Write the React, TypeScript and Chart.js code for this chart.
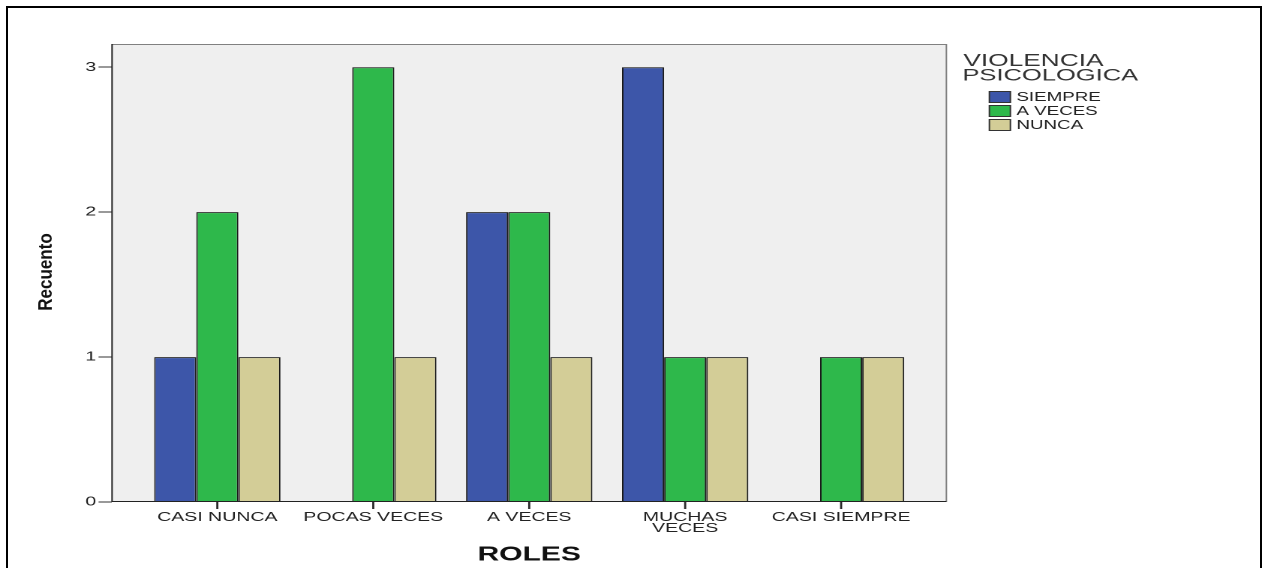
import React, { useEffect, useRef } from "react";
import { Chart, registerables } from "chart.js";

Chart.register(...registerables);

// ---- data ----
const categories = ["CASI NUNCA", "POCAS VECES", "A VECES", "MUCHAS VECES", "CASI SIEMPRE"];
const tickLabels: (string | string[])[] = ["CASI NUNCA", "POCAS VECES", "A VECES", ["MUCHAS", "VECES"], "CASI SIEMPRE"];
const seriesNames = ["SIEMPRE", "A VECES", "NUNCA"];
const siempre: (number | null)[] = [1, null, 2, 3, null];
const aVeces: (number | null)[] = [2, 3, 2, 1, 1];
const nunca: (number | null)[] = [1, 1, 1, 1, 1];
const yTicks = [0, 1, 2, 3];
const legendTitle = ["VIOLENCIA", "PSICOLOGICA"];
const xTitle = "ROLES";
const yTitle = "Recuento";

// ---- layout (the reference is stretched horizontally) ----
const S = 1.5;
const W = 1268;
const H = 568;
const IW = Math.round(W / S);
const px = (x: number) => x / S;
const FONT = "'Liberation Sans', Arial, sans-serif";
const colors = ["#3d56a9", "#2eb84b", "#d3cd97"];

const chartPlugin = {
  id: "spssDecor",
  beforeDraw(chart: any) {
    const { ctx, chartArea: a } = chart;
    ctx.save();
    ctx.fillStyle = "#efefef";
    ctx.fillRect(a.left, a.top, a.right - a.left, a.bottom - a.top);
    ctx.restore();
  },
  afterDraw(chart: any) {
    const { ctx, chartArea: a } = chart;
    // plot frame
    ctx.save();
    ctx.lineWidth = 1;
    ctx.strokeStyle = "#808080";
    ctx.beginPath();
    ctx.moveTo(a.left, a.top + 0.5);
    ctx.lineTo(a.right, a.top + 0.5);
    ctx.lineTo(a.right, a.bottom);
    ctx.stroke();
    ctx.strokeStyle = "#222";
    ctx.beginPath();
    ctx.moveTo(a.left, a.top);
    ctx.lineTo(a.left, a.bottom - 0.5);
    ctx.lineTo(a.right, a.bottom - 0.5);
    ctx.stroke();
    // x category tick marks
    const xs = chart.scales.x;
    ctx.fillStyle = "#2a2a2a";
    for (let i = 0; i < categories.length; i++) {
      const x = xs.getPixelForValue(i);
      ctx.fillRect(x - 0.7, a.bottom, 1.4, 7);
    }
    ctx.restore();

    // y axis title, drawn with only a slight horizontal stretch
    ctx.save();
    ctx.translate(px(46), 272);
    ctx.scale(1.15 / S, 1);
    ctx.rotate(-Math.PI / 2);
    ctx.font = `bold 17px ${FONT}`;
    ctx.fillStyle = "#111";
    ctx.textAlign = "center";
    ctx.textBaseline = "middle";
    ctx.fillText(yTitle, 0, 0);
    ctx.restore();

    // legend
    ctx.save();
    ctx.fillStyle = "#333";
    ctx.textAlign = "left";
    ctx.textBaseline = "middle";
    ctx.font = `17.5px ${FONT}`;
    ctx.fillText(legendTitle[0], px(963), 61);
    ctx.font = `17px ${FONT}`;
    ctx.fillText(legendTitle[1], px(962), 76);
    const rows = [97, 111, 125];
    chart.data.datasets.forEach((ds: any, i: number) => {
      const y = rows[i];
      ctx.fillStyle = ds.backgroundColor;
      ctx.fillRect(px(989), y - 5.5, px(1010) - px(989), 11);
      ctx.strokeStyle = "#333";
      ctx.lineWidth = 1;
      ctx.strokeRect(px(989), y - 5.5, px(1010) - px(989), 11);
      ctx.fillStyle = "#222";
      ctx.font = `12.5px ${FONT}`;
      ctx.fillText(ds.label, px(1016), y + 0.5);
    });
    ctx.restore();
  },
};

export default function App() {
  const ref = useRef<HTMLCanvasElement | null>(null);

  useEffect(() => {
    if (!ref.current) return;
    const mk = (vals: (number | null)[]) => vals.map((v, i) => ({ x: i, y: v }));
    const chart = new Chart(ref.current, {
      type: "bar",
      data: {
        datasets: [siempre, aVeces, nunca].map((vals, i) => ({
          label: seriesNames[i],
          data: mk(vals) as any,
          backgroundColor: colors[i],
          borderColor: "#1a1a1a",
          borderWidth: 1,
          categoryPercentage: 0.81,
          barPercentage: 1,
        })),
      },
      options: {
        responsive: false,
        animation: false,
        devicePixelRatio: 2,
        layout: { padding: { left: 0, top: 44, right: IW - px(946), bottom: 0 } },
        plugins: { legend: { display: false }, tooltip: { enabled: false } },
        scales: {
          x: {
            type: "linear",
            min: -0.675,
            max: categories.length - 1 + 0.675,
            offset: false,
            afterBuildTicks: (scale: any) => {
              scale.ticks = categories.map((_, i) => ({ value: i }));
            },
            afterFit: (scale: any) => {
              scale.height = H - 502;
            },
            grid: {
              offset: false,
              drawOnChartArea: false,
              drawTicks: true,
              tickLength: 7,
              tickColor: "rgba(0,0,0,0)",
            },
            border: { display: false },
            ticks: {
              autoSkip: false,
              maxRotation: 0,
              padding: 3,
              color: "#222",
              font: { family: FONT, size: 13, lineHeight: 0.85 },
              callback: (v: any) => tickLabels[Math.round(Number(v))] as any,
            },
            title: {
              display: true,
              text: xTitle,
              color: "#111",
              font: { family: FONT, size: 20, weight: "bold" },
              padding: { top: 0, bottom: 1 },
            },
          },
          y: {
            min: 0,
            max: 3.16,
            afterBuildTicks: (scale: any) => {
              scale.ticks = yTicks.map((v) => ({ value: v }));
            },
            afterFit: (scale: any) => {
              scale.width = px(112);
            },
            grid: {
              drawOnChartArea: false,
              drawTicks: true,
              tickLength: 9,
              tickColor: "#333",
              tickWidth: 1,
            },
            border: { display: false },
            ticks: {
              padding: 1.5,
              color: "#222",
              font: { family: FONT, size: 13 },
            },
          },
        },
      } as any,
      plugins: [chartPlugin],
    });
    return () => chart.destroy();
  }, []);

  return (
    <div style={{ position: "fixed", left: 0, top: 0, width: W, height: H, background: "#fff", overflow: "hidden" }}>
      <canvas
        ref={ref}
        width={IW}
        height={H}
        style={{ width: `${W}px`, height: `${H}px`, display: "block" }}
      />
      <div
        style={{
          position: "absolute",
          left: 6,
          top: 6,
          width: 1256,
          height: 600,
          borderLeft: "2px solid #000",
          borderTop: "2px solid #000",
          borderRight: "2px solid #000",
          boxSizing: "border-box",
          pointerEvents: "none",
        }}
      />
    </div>
  );
}
